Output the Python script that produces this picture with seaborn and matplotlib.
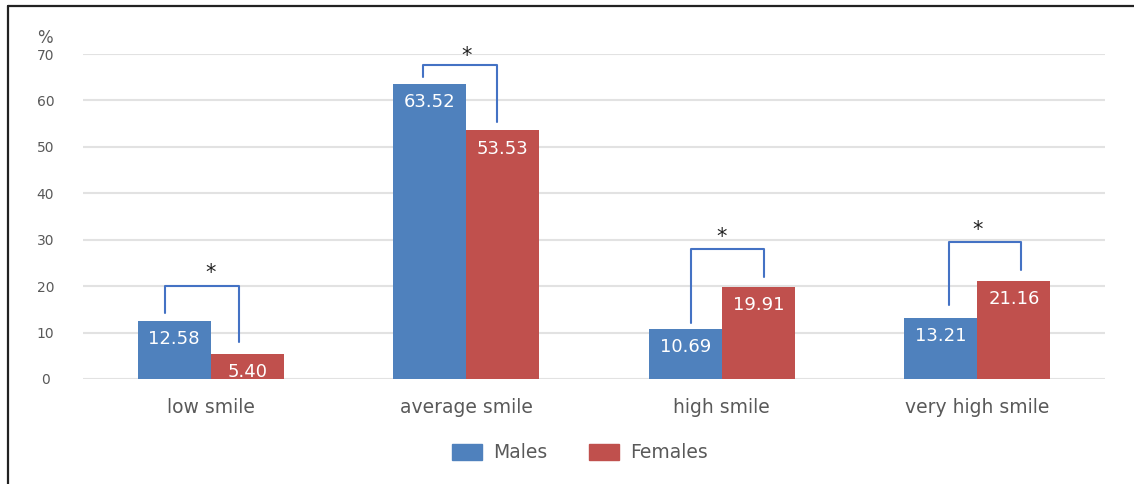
import numpy as np
import pandas as pd
import matplotlib
matplotlib.use('Agg')
import matplotlib.pyplot as plt
from matplotlib.lines import Line2D
import seaborn as sns

# values
categories = ['low smile', 'average smile', 'high smile', 'very high smile']
groups = ['Males', 'Females']
males = [12.58, 63.52, 10.69, 13.21]
females = [5.40, 53.53, 19.91, 21.16]

# significance brackets: top height, left foot, right foot, star height
bracket_top = [20.0, 67.7, 28.0, 29.5]
bracket_left_end = [14.2, 65.0, 12.1, 16.0]
bracket_right_end = [8.0, 55.4, 22.0, 23.5]
star_y = [22.8, 69.5, 30.6, 32.2]
# horizontal offsets of bracket feet from category centre
bracket_left_dx = [-0.18, -0.17, -0.12, -0.11]
bracket_right_dx = [0.11, 0.12, 0.165, 0.17]

yticks = [0, 10, 20, 30, 40, 50, 60, 70]

df = pd.DataFrame({
    'category': categories * 2,
    'group': [groups[0]] * 4 + [groups[1]] * 4,
    'value': males + females,
})

sns.set_style('white')
plt.rcParams['font.family'] = ['DejaVu Sans']

text_gray = '#595959'
palette = {'Males': '#4F81BD', 'Females': '#C0504D'}

fig = plt.figure(figsize=(11.34, 4.84), dpi=100)
ax = fig.add_axes([83 / 1134, 1 - 379 / 484, 1022 / 1134, 325 / 484])

sns.barplot(data=df, x='category', y='value', hue='group', order=categories,
            hue_order=groups, palette=palette, width=0.573, saturation=1,
            edgecolor='none', linewidth=0, ax=ax, legend=False, zorder=3)

ax.set_ylim(0, 70)
ax.set_xlim(-0.5, 3.5)
ax.set_yticks(yticks)
ax.yaxis.grid(True, color='#e2e2e2', linewidth=1.5, zorder=0)
ax.set_axisbelow(True)
for s in ax.spines.values():
    s.set_visible(False)
ax.set_xlabel('')
ax.set_ylabel('')
ax.tick_params(axis='y', length=0, pad=27, labelsize=10, labelcolor=text_gray)
ax.tick_params(axis='x', length=0, pad=14, labelsize=13.5, labelcolor=text_gray)
for lab in ax.get_yticklabels():
    lab.set_ha('center')

# value labels inside bars
for cont in ax.containers:
    for bar in cont:
        h = bar.get_height()
        ax.annotate(f'{h:.2f}', (bar.get_x() + bar.get_width() / 2, h),
                    xytext=(0, -13), textcoords='offset points',
                    ha='center', va='center', color='white', fontsize=13, zorder=5)

# significance brackets
bc = '#4472C4'
for i in range(len(categories)):
    xl = i + bracket_left_dx[i]
    xr = i + bracket_right_dx[i]
    ax.plot([xl, xl, xr, xr],
            [bracket_left_end[i], bracket_top[i], bracket_top[i], bracket_right_end[i]],
            color=bc, linewidth=1.5, zorder=4, clip_on=False)
    ax.text(i, star_y[i], '*', ha='center', va='center', fontsize=15,
            color='#222222', zorder=5, clip_on=False)

fig.text(45 / 1134, 1 - 38 / 484, '%', ha='center', va='center',
         fontsize=12, color=text_gray)

handles = [plt.Rectangle((0, 0), 1, 1, color=palette[g]) for g in groups]
fig.legend(handles, groups, loc='center', bbox_to_anchor=(580 / 1134, 1 - 453 / 484),
           ncol=2, frameon=False, fontsize=13.5, labelcolor=text_gray,
           handlelength=1.6, handleheight=1.0, columnspacing=2.2, handletextpad=0.6)

# outer frame (left and top edges)
fig.add_artist(Line2D([8 / 1134, 8 / 1134], [0, 1 - 6 / 484], color='#222222',
                      linewidth=1.6, transform=fig.transFigure))
fig.add_artist(Line2D([8 / 1134, 1], [1 - 6 / 484, 1 - 6 / 484], color='#222222',
                      linewidth=1.6, transform=fig.transFigure))

fig.savefig('out.png', dpi=100)
